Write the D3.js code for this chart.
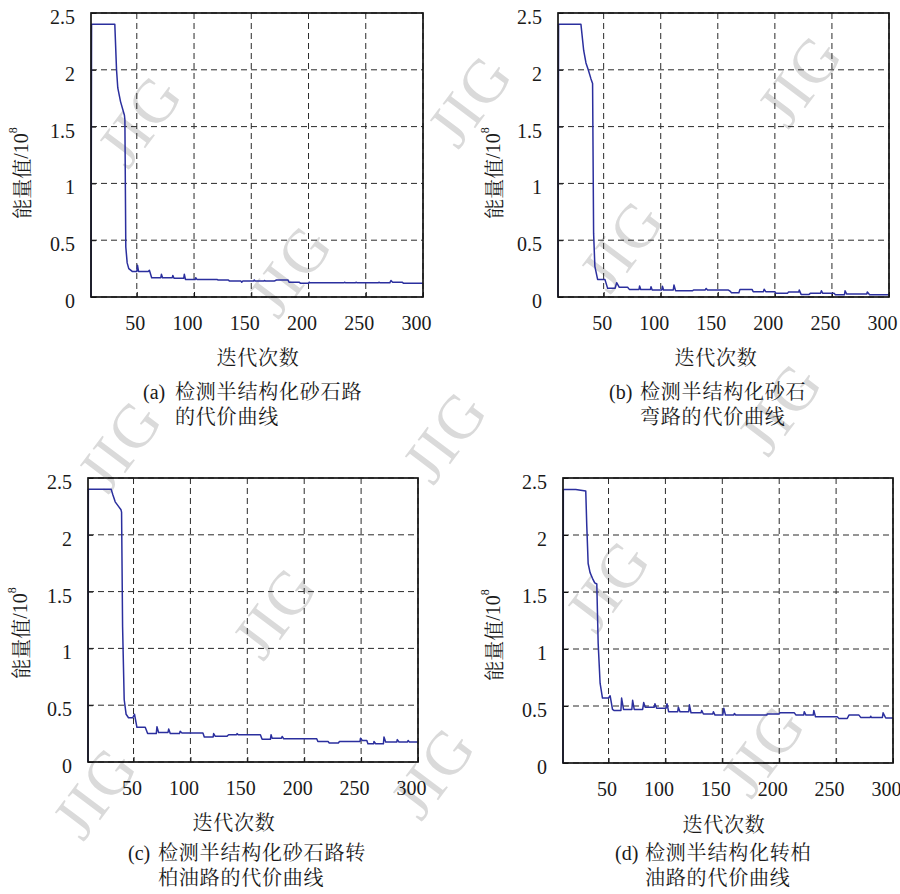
<!DOCTYPE html>
<html>
<head>
<meta charset="utf-8">
<script src="https://cdn.jsdelivr.net/npm/d3@7"></script>
<style>
  body { margin: 0; background: #fff; }
  svg { display: block; }
</style>
</head>
<body>
<svg id="chart" width="900" height="894"></svg>
<script>
// Data
var xTicks = [50, 100, 150, 200, 250, 300];
var yTicks = [0, 0.5, 1, 1.5, 2, 2.5];
var xTitle = "迭代次数";
var yTitle = "能量值/10";

// [iteration, energy / 1e8]
var curveA = [[10,0],[10.5,2.4],[30.8,2.4],[32.3,2.0],[33.4,1.84],[35.8,1.72],[39.2,1.6],[39.6,1.56],[40.4,0.44],[41.6,0.3],[43,0.25],[46,0.225],[50,0.225],[50.6,0.28],[51.5,0.225],[60,0.225],[61,0.235],[63,0.17],[71,0.17],[71.5,0.2],[72.5,0.17],[81,0.17],[81.5,0.19],[82.5,0.165],[91,0.165],[91.5,0.2],[92.5,0.155],[101,0.155],[101.5,0.17],[102.5,0.155],[120,0.155],[121,0.15],[130,0.15],[131,0.14],[141,0.14],[141.7,0.13],[142.5,0.14],[152,0.14],[152.6,0.15],[153.5,0.14],[161,0.14],[161.5,0.145],[162.5,0.14],[170,0.14],[172,0.15],[182,0.15],[183,0.13],[192,0.13],[193,0.12],[200,0.12],[200.6,0.13],[201.5,0.125],[231,0.125],[231.5,0.13],[232.5,0.125],[241,0.125],[241.5,0.13],[242.5,0.125],[261,0.125],[261.5,0.13],[262.5,0.125],[271,0.125],[272,0.145],[273.5,0.13],[282,0.13],[283,0.12],[300,0.12]];
var curveB = [[10,0],[10.5,2.4],[30.1,2.4],[32.5,2.17],[34.5,2.06],[36.5,2.0],[38.9,1.92],[40.3,1.88],[41.2,0.56],[42.3,0.27],[44.7,0.155],[51.1,0.155],[53.5,0.076],[60,0.076],[61.4,0.126],[63.7,0.085],[71,0.085],[72.5,0.067],[81,0.067],[81.5,0.097],[82.5,0.067],[91,0.067],[91.5,0.09],[92.5,0.062],[101,0.062],[101.5,0.095],[102.5,0.062],[111,0.062],[111.6,0.105],[113,0.056],[128,0.056],[129,0.062],[139,0.062],[139.8,0.075],[141,0.062],[159,0.062],[160.7,0.052],[162,0.038],[168.5,0.038],[169.4,0.067],[180,0.067],[181,0.047],[190,0.047],[190.6,0.068],[192,0.047],[200,0.047],[201,0.032],[211,0.032],[212,0.044],[221,0.044],[221.4,0.062],[223,0.023],[230,0.023],[231,0.032],[240,0.032],[240.8,0.055],[242,0.032],[252,0.032],[253,0.02],[261,0.02],[261.5,0.055],[263,0.026],[280.5,0.026],[281,0.044],[283,0.02],[300,0.02]];
var curveC = [[10,0],[10.3,2.4],[30.4,2.4],[31.9,2.35],[33.9,2.29],[36.8,2.25],[39,2.22],[39.5,2.2],[40.4,1.19],[41.8,0.55],[43.5,0.42],[45.6,0.39],[49.4,0.39],[50.9,0.42],[53,0.305],[60.3,0.305],[62.4,0.25],[70,0.25],[70.6,0.31],[72,0.26],[80.3,0.26],[80.9,0.29],[82.3,0.25],[90.4,0.25],[91,0.27],[92.6,0.255],[111,0.255],[112.2,0.22],[120,0.22],[120.4,0.25],[121.9,0.226],[132,0.226],[133.6,0.24],[140.5,0.24],[141,0.25],[142,0.24],[161.5,0.24],[163,0.2],[170.3,0.2],[170.9,0.24],[171.8,0.21],[180,0.21],[180.6,0.225],[182,0.205],[211,0.205],[212,0.18],[221,0.18],[222,0.167],[230,0.167],[231,0.18],[249,0.18],[249.5,0.21],[251,0.19],[255,0.19],[256,0.16],[261,0.16],[261.3,0.18],[262.8,0.16],[269.6,0.16],[270.1,0.22],[271.6,0.176],[281.3,0.176],[281.8,0.197],[283.3,0.176],[290.8,0.176],[291.3,0.19],[292.5,0.176],[300,0.176]];
var curveD = [[10,0],[10.3,2.4],[21.2,2.4],[30,2.385],[30.9,2.08],[32.1,1.75],[33.8,1.67],[35.9,1.62],[37.9,1.58],[39.7,1.57],[40.9,1.05],[42.6,0.7],[44.7,0.57],[50,0.57],[51.4,0.59],[53.5,0.47],[55,0.46],[60.9,0.46],[61.5,0.57],[63.2,0.47],[70.5,0.47],[71.2,0.55],[72.6,0.47],[80,0.47],[80.9,0.53],[82.3,0.49],[90.2,0.49],[90.8,0.52],[92.3,0.48],[100.5,0.48],[101.4,0.52],[102.8,0.45],[110.8,0.45],[111.4,0.49],[112.8,0.45],[120.5,0.45],[121.1,0.51],[122.5,0.44],[131.3,0.44],[131.9,0.46],[133.4,0.43],[141.6,0.43],[142.2,0.45],[143.6,0.42],[150.4,0.42],[151.3,0.48],[152.8,0.42],[160,0.42],[160.6,0.435],[162,0.42],[189,0.42],[189.5,0.43],[191,0.43],[200,0.43],[200.5,0.44],[213.3,0.44],[214.8,0.42],[221.5,0.42],[222,0.45],[223.5,0.42],[229.9,0.42],[230.4,0.46],[231.9,0.405],[251,0.405],[252.5,0.39],[259.8,0.39],[261.3,0.42],[270.1,0.42],[271.6,0.4],[280,0.4],[280.4,0.41],[281,0.4],[290.7,0.4],[291.3,0.44],[293.6,0.395],[300,0.395]];

var captionTags = ["(a)", "(b)", "(c)", "(d)"];
var captionLine1 = ["检测半结构化砂石路", "检测半结构化砂石", "检测半结构化砂石路转", "检测半结构化转柏"];
var captionLine2 = ["的代价曲线", "弯路的代价曲线", "柏油路的代价曲线", "油路的代价曲线"];

// Layout: plot box [left, top, right, bottom], y title centre, x title centre, caption anchors
var panels = [
  { data: curveA, box: [91, 13, 423, 297], ylab: [21, 173], xlab: [258, 365], cap: [143, 175, 399, 424] },
  { data: curveB, box: [558, 13, 889, 297], ylab: [493, 173], xlab: [716, 365], cap: [609, 640, 399, 424] },
  { data: curveC, box: [88, 478, 418, 762], ylab: [20, 633], xlab: [234, 830], cap: [128, 158, 860, 885] },
  { data: curveD, box: [563, 478, 893, 763], ylab: [493, 635], xlab: [724, 832], cap: [615, 645, 860, 885] }
];

// Watermark centres
var watermarks = [[140,120],[470,100],[800,80],[290,270],[622,245],
  [120,445],[445,436],[780,408],[275,612],[608,585],[95,792],[433,772],[763,750]];

var latin = "'Liberation Serif', 'Times New Roman', serif";
var hanzi = "'Noto Serif CJK SC', 'Noto Sans CJK SC', serif";
var ink = "#1a1a1a";

function latinText(sel, size) {
  return sel.style("font-family", latin).style("font-size", (size || 20) + "px").style("fill", ink);
}
function hanziText(sel) {
  return sel.style("font-family", hanzi).style("font-size", "20px").style("letter-spacing", "0.8px").style("fill", ink);
}

var svg = d3.select("#chart");

svg.append("g").attr("class", "watermarks")
  .selectAll("text")
  .data(watermarks)
  .enter()
  .append("text")
  .attr("transform", function(d) { return "translate(" + d[0] + "," + d[1] + ") rotate(-53)"; })
  .attr("text-anchor", "middle")
  .attr("dominant-baseline", "central")
  .style("font-family", latin)
  .style("font-size", "62px")
  .style("letter-spacing", "2px")
  .style("fill", "#dadada")
  .text("JIG");

panels.forEach(function(p, i) {
  var left = p.box[0], top = p.box[1], right = p.box[2], bottom = p.box[3];

  var x = d3.scaleLinear().domain([10, 300]).range([left, right]);
  var y = d3.scaleLinear().domain([0, 2.5]).range([bottom, top]);

  var g = svg.append("g").attr("class", "panel");

  // dashed grid
  g.append("g").selectAll("line")
    .data(xTicks)
    .enter().append("line")
    .attr("x1", function(d) { return x(d); })
    .attr("x2", function(d) { return x(d); })
    .attr("y1", top).attr("y2", bottom)
    .attr("stroke", "#2a2a2a").attr("stroke-width", 1)
    .attr("stroke-dasharray", "6,4");

  g.append("g").selectAll("line")
    .data(yTicks)
    .enter().append("line")
    .attr("x1", left).attr("x2", right)
    .attr("y1", function(d) { return y(d); })
    .attr("y2", function(d) { return y(d); })
    .attr("stroke", "#2a2a2a").attr("stroke-width", 1)
    .attr("stroke-dasharray", "6,4");

  // axes
  var xAxis = g.append("g")
    .attr("transform", "translate(0," + bottom + ")")
    .call(d3.axisBottom(x).tickValues(xTicks).tickSizeInner(-5).tickSizeOuter(0).tickPadding(19).tickFormat(d3.format("d")));
  xAxis.select(".domain").remove();
  xAxis.selectAll("line").attr("stroke", "#111");
  latinText(xAxis.selectAll("text")).attr("text-anchor", "end").attr("dx", 8);

  var yAxis = g.append("g")
    .attr("transform", "translate(" + left + ",0)")
    .call(d3.axisLeft(y).tickValues(yTicks).tickSizeInner(-5).tickSizeOuter(0).tickPadding(16)
      .tickFormat(function(d) { return String(d); }));
  yAxis.select(".domain").remove();
  yAxis.selectAll("line").attr("stroke", "#111");
  latinText(yAxis.selectAll("text")).attr("dy", "0.52em");

  // the curve
  var line = d3.line()
    .x(function(d) { return x(d[0]); })
    .y(function(d) { return y(d[1]); });

  g.append("path")
    .datum(p.data)
    .attr("fill", "none")
    .attr("stroke", "#2b2f9e")
    .attr("stroke-width", 1.5)
    .attr("stroke-linejoin", "round")
    .attr("d", line);

  // frame
  g.append("rect")
    .attr("x", left).attr("y", top)
    .attr("width", right - left).attr("height", bottom - top)
    .attr("fill", "none")
    .attr("stroke", "#151515")
    .attr("stroke-width", 1.7);

  // y title
  var yt = g.append("text")
    .attr("transform", "translate(" + p.ylab[0] + "," + p.ylab[1] + ") rotate(-90)")
    .attr("text-anchor", "middle")
    .attr("dominant-baseline", "central");
  hanziText(yt.append("tspan")).style("letter-spacing", "0px").text(yTitle.slice(0, 3));
  latinText(yt.append("tspan")).text(yTitle.slice(3));
  latinText(yt.append("tspan"), 12).attr("dy", -8).text("8");

  // x title
  hanziText(g.append("text"))
    .attr("x", p.xlab[0]).attr("y", p.xlab[1])
    .attr("text-anchor", "middle")
    .text(xTitle);

  // caption
  latinText(g.append("text"))
    .attr("x", p.cap[0]).attr("y", p.cap[2])
    .text(captionTags[i]);
  hanziText(g.append("text"))
    .attr("x", p.cap[1]).attr("y", p.cap[2])
    .text(captionLine1[i]);
  hanziText(g.append("text"))
    .attr("x", p.cap[1]).attr("y", p.cap[3])
    .text(captionLine2[i]);
});
</script>
</body>
</html>
